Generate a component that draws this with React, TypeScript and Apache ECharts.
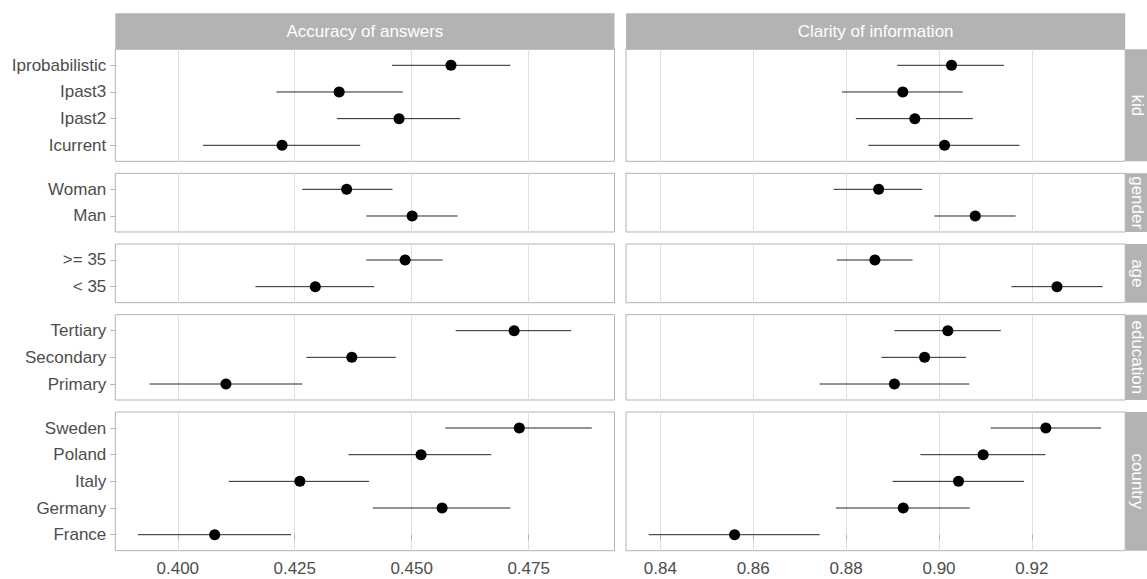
import React, { useEffect, useRef } from "react";
import * as echarts from "echarts";

// ---------- data ----------
const facetCols = ["Accuracy of answers", "Clarity of information"];
const facetRows = ["kid", "gender", "age", "education", "country"];

// categories listed bottom -> top
const kidCats = ["Icurrent", "Ipast2", "Ipast3", "Iprobabilistic"];
const kidAcc = [0.4223, 0.4473, 0.4345, 0.4584];
const kidAccLo = [0.4054, 0.434, 0.4211, 0.4458];
const kidAccHi = [0.439, 0.4604, 0.4481, 0.4711];
const kidCla = [0.9012, 0.8948, 0.8922, 0.9027];
const kidClaLo = [0.8848, 0.8821, 0.8791, 0.891];
const kidClaHi = [0.9173, 0.9073, 0.9051, 0.914];

const genderCats = ["Man", "Woman"];
const genderAcc = [0.4501, 0.4361];
const genderAccLo = [0.4403, 0.4266];
const genderAccHi = [0.4598, 0.4459];
const genderCla = [0.9078, 0.887];
const genderClaLo = [0.899, 0.8773];
const genderClaHi = [0.9165, 0.8964];

const ageCats = ["< 35", ">= 35"];
const ageAcc = [0.4294, 0.4486];
const ageAccLo = [0.4166, 0.4403];
const ageAccHi = [0.442, 0.4566];
const ageCla = [0.9254, 0.8862];
const ageClaLo = [0.9156, 0.878];
const ageClaHi = [0.9352, 0.8943];

const eduCats = ["Primary", "Secondary", "Tertiary"];
const eduAcc = [0.4103, 0.4372, 0.4719];
const eduAccLo = [0.394, 0.4275, 0.4594];
const eduAccHi = [0.4266, 0.4466, 0.4841];
const eduCla = [0.8904, 0.8969, 0.9019];
const eduClaLo = [0.8743, 0.8876, 0.8904];
const eduClaHi = [0.9065, 0.9058, 0.9133];

const countryCats = ["France", "Germany", "Italy", "Poland", "Sweden"];
const countryAcc = [0.4079, 0.4565, 0.4261, 0.452, 0.473];
const countryAccLo = [0.3915, 0.4417, 0.4109, 0.4365, 0.4572];
const countryAccHi = [0.4242, 0.4711, 0.4409, 0.467, 0.4885];
const countryCla = [0.856, 0.8923, 0.9042, 0.9095, 0.923];
const countryClaLo = [0.8375, 0.8778, 0.89, 0.896, 0.9111];
const countryClaHi = [0.8743, 0.9066, 0.9183, 0.9229, 0.9349];

const accTicks = [0.4, 0.425, 0.45, 0.475];
const claTicks = [0.84, 0.86, 0.88, 0.9, 0.92];

// ---------- style / layout ----------
const FONT = "'Liberation Sans', Arial, Helvetica, sans-serif";
const TEXT_COL = "#4D4D4D";
const STRIP_COL = "#B3B3B3";
const BORDER_COL = "#B3B3B3";
const GRID_COL = "#E0E0E0";
const FS = 17;

const colLeft = [115.3, 626];
const panelW = 499.2;
const stripTop = 13.3;
const stripH = 36;
const panelTop0 = stripTop + stripH;
const unit = 26.67;
const gapV = 12;

type Group = {
  cats: string[];
  acc: number[]; accLo: number[]; accHi: number[];
  cla: number[]; claLo: number[]; claHi: number[];
};

const groups: Group[] = [
  { cats: kidCats, acc: kidAcc, accLo: kidAccLo, accHi: kidAccHi, cla: kidCla, claLo: kidClaLo, claHi: kidClaHi },
  { cats: genderCats, acc: genderAcc, accLo: genderAccLo, accHi: genderAccHi, cla: genderCla, claLo: genderClaLo, claHi: genderClaHi },
  { cats: ageCats, acc: ageAcc, accLo: ageAccLo, accHi: ageAccHi, cla: ageCla, claLo: ageClaLo, claHi: ageClaHi },
  { cats: eduCats, acc: eduAcc, accLo: eduAccLo, accHi: eduAccHi, cla: eduCla, claLo: eduClaLo, claHi: eduClaHi },
  { cats: countryCats, acc: countryAcc, accLo: countryAccLo, accHi: countryAccHi, cla: countryCla, claLo: countryClaLo, claHi: countryClaHi },
];

function expandedRange(lo: number[], hi: number[]) {
  const mn = Math.min(...lo);
  const mx = Math.max(...hi);
  const pad = (mx - mn) * 0.05;
  return [mn - pad, mx + pad];
}

export default function App() {
  const ref = useRef<HTMLDivElement>(null);

  useEffect(() => {
    if (!ref.current) return;
    const chart = echarts.init(ref.current, null, { renderer: "svg" });

    const accRange = expandedRange(groups.flatMap((g) => g.accLo), groups.flatMap((g) => g.accHi));
    const claRange = expandedRange(groups.flatMap((g) => g.claLo), groups.flatMap((g) => g.claHi));

    const grids: any[] = [];
    const xAxes: any[] = [];
    const yAxes: any[] = [];
    const series: any[] = [];
    const graphics: any[] = [];

    // top strips
    facetCols.forEach((name, c) => {
      graphics.push({
        type: "rect",
        shape: { x: colLeft[c], y: stripTop, width: panelW, height: stripH },
        style: { fill: STRIP_COL },
        silent: true,
      });
      graphics.push({
        type: "text",
        x: colLeft[c] + panelW / 2,
        y: stripTop + stripH / 2,
        style: { text: name, fill: "#FFFFFF", font: `${FS}px ${FONT}`, align: "center", verticalAlign: "middle" },
        silent: true,
      });
    });

    let top = panelTop0;
    groups.forEach((g, r) => {
      const n = g.cats.length;
      const h = (n + 0.2) * unit;
      const isLast = r === groups.length - 1;

      // right strip (clipped by the page edge, like the reference)
      const sx = colLeft[1] + panelW;
      graphics.push({
        type: "rect",
        shape: { x: sx, y: top, width: stripH, height: h },
        style: { fill: STRIP_COL },
        silent: true,
      });
      graphics.push({
        type: "text",
        x: sx + 12.5,
        y: top + h / 2,
        rotation: -Math.PI / 2,
        style: { text: facetRows[r], fill: "#FFFFFF", font: `${FS}px ${FONT}`, align: "center", verticalAlign: "middle" },
        silent: true,
      });

      const idx = g.cats.map((_, i) => i);

      [0, 1].forEach((c) => {
        const gi = r * 2 + c;
        const est = c === 0 ? g.acc : g.cla;
        const lo = c === 0 ? g.accLo : g.claLo;
        const hi = c === 0 ? g.accHi : g.claHi;
        const range = c === 0 ? accRange : claRange;
        const ticks = c === 0 ? accTicks : claTicks;
        const digits = c === 0 ? 3 : 2;

        grids.push({
          left: colLeft[c],
          top: top,
          width: panelW,
          height: h,
          show: true,
          backgroundColor: "#FFFFFF",
          borderColor: BORDER_COL,
          borderWidth: 1,
          containLabel: false,
        });

        xAxes.push({
          gridIndex: gi,
          type: "value",
          min: range[0],
          max: range[1],
          axisLine: { show: false },
          axisTick: {
            show: isLast,
            customValues: ticks,
            length: 5,
            lineStyle: { color: BORDER_COL, width: 1 },
          },
          axisLabel: {
            show: isLast,
            customValues: ticks,
            formatter: (v: number) => v.toFixed(digits),
            color: TEXT_COL,
            fontSize: FS,
            fontFamily: FONT,
            margin: 9,
          },
          splitLine: { show: true, lineStyle: { color: GRID_COL, width: 1 } },
        });

        yAxes.push({
          gridIndex: gi,
          type: "value",
          min: -0.6,
          max: n - 0.4,
          axisLine: { show: false },
          axisTick: {
            show: c === 0,
            customValues: idx,
            length: 5,
            lineStyle: { color: BORDER_COL, width: 1 },
          },
          axisLabel: {
            show: c === 0,
            customValues: idx,
            formatter: (v: number) => g.cats[Math.round(v)] ?? "",
            color: TEXT_COL,
            fontSize: FS,
            fontFamily: FONT,
            margin: 9,
          },
          splitLine: { show: false },
        });

        series.push({
          type: "custom",
          xAxisIndex: gi,
          yAxisIndex: gi,
          silent: true,
          data: g.cats.map((_, i) => [est[i], i, lo[i], hi[i]]),
          encode: { x: [0, 2, 3], y: 1 },
          renderItem: (_params: any, api: any) => {
            const y = api.value(1);
            const p1 = api.coord([api.value(2), y]);
            const p2 = api.coord([api.value(3), y]);
            return {
              type: "line",
              shape: { x1: p1[0], y1: p1[1], x2: p2[0], y2: p2[1] },
              style: { stroke: "#262626", lineWidth: 1 },
            };
          },
          z: 2,
        });

        series.push({
          type: "scatter",
          xAxisIndex: gi,
          yAxisIndex: gi,
          silent: true,
          symbol: "circle",
          symbolSize: 11,
          itemStyle: { color: "#000000", opacity: 1 },
          data: g.cats.map((_, i) => [est[i], i]),
          z: 3,
        });
      });

      top += h + gapV;
    });

    chart.setOption({
      animation: false,
      backgroundColor: "#FFFFFF",
      textStyle: { fontFamily: FONT },
      grid: grids,
      xAxis: xAxes,
      yAxis: yAxes,
      series,
      graphic: graphics,
    });

    return () => chart.dispose();
  }, []);

  return (
    <div
      ref={ref}
      style={{ position: "fixed", left: 0, top: 0, width: 1147, height: 579 }}
    />
  );
}
